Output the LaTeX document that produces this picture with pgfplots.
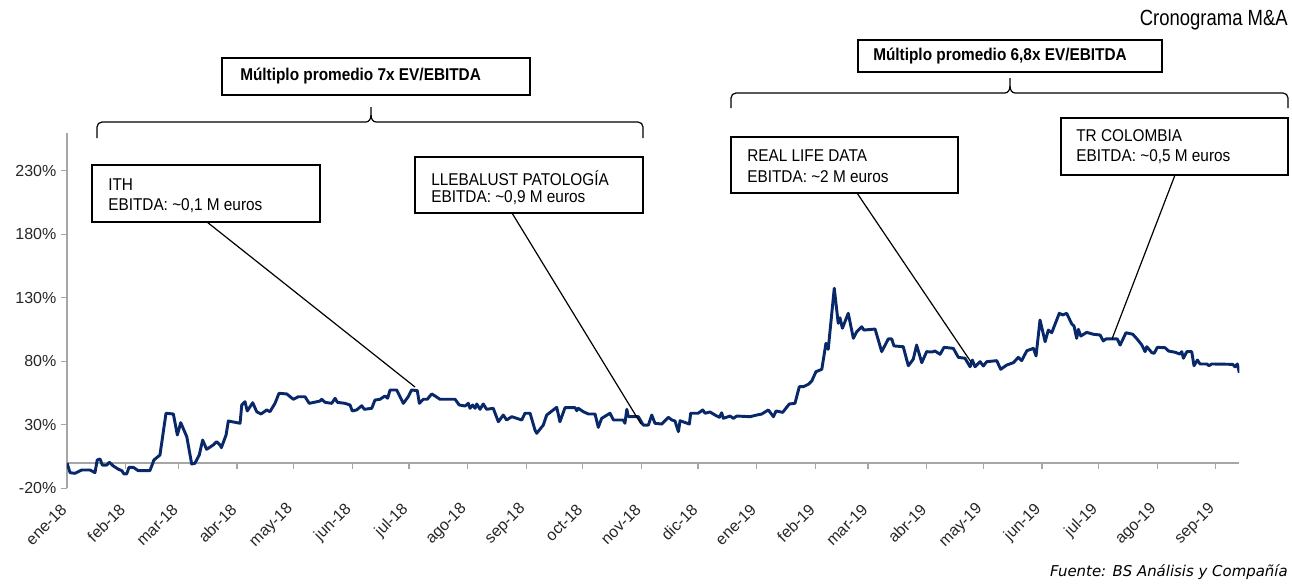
\documentclass[border=0pt]{standalone}
\usepackage{pgfplots}
\pgfplotsset{compat=1.18}
\usepackage{fontspec}
\setmainfont{Liberation Sans}
\newfontfamily\condfont[FakeStretch=0.9]{Liberation Sans}
\newfontfamily\titlefont[FakeStretch=0.84]{Liberation Sans}
\newfontfamily\fuentefont{DejaVu Sans}
\definecolor{navy}{RGB}{8,40,105}
\definecolor{axisgray}{RGB}{166,166,166}
\newcommand\tickfont{\fontsize{12}{14}\selectfont}
\newcommand\boxfont{\condfont\fontsize{12.8}{15}\selectfont}
\begin{document}
\begin{tikzpicture}
\begin{axis}[
  x=1.417pt, y=0.9525pt,
  xmin=0, xmax=620.5, ymin=-20, ymax=260,
  axis x line=middle, axis y line=left,
  axis line style={-, draw=axisgray, line width=0.9pt},
  hide obscured x ticks=false,
  xtick={0,31,59,90,120,151,181,212,243,273,304,334,365,396,424,455,485,516,546,577,608},
  xticklabels={ene-18,feb-18,mar-18,abr-18,may-18,jun-18,jul-18,ago-18,sep-18,oct-18,nov-18,dic-18,ene-19,feb-19,mar-19,abr-19,may-19,jun-19,jul-19,ago-19,sep-19},
  ytick={-20,30,80,130,180,230},
  yticklabels={-20\%,30\%,80\%,130\%,180\%,230\%},
  minor tick num=0,
  tick align=outside,
  major tick length=4.5pt,
  tick style={draw=axisgray, line width=0.9pt},
  xticklabel style={font=\tickfont, rotate=45, anchor=east, text=black!85},
  xticklabel shift=26pt,
  yticklabel style={font=\tickfont, text=black!85},
]
\addplot[navy, line width=2.2pt, line join=round] coordinates {
(0,0) (1.6,-7.7) (4.2,-8.2) (7.8,-5.6) (12.2,-5.6) (14.8,-7.7) (16.0,2.3) (17.5,3.1) (18.7,-1.7) (21.0,-1.7) (22.4,0.5) (24.5,-2.4) (27.2,-5.0) (29.0,-6.1) (30.2,-8.7) (31.6,-8.7) (32.8,-3.5) (35.1,-3.5) (37.7,-6.1) (43.9,-6.1) (46.0,2.3) (49.2,6.2) (52.4,39.1) (56.3,38.5) (58.4,22.0) (60.2,31.7) (63.4,20.6) (66.0,-0.9) (67.7,-0.3) (70.0,6.2) (71.8,18.0) (73.9,10.7) (77.4,14.1) (79.2,16.7) (81.0,14.1) (81.7,12.0) (84.2,22.0) (85.4,33.0) (91.6,31.2) (92.5,45.6) (94.2,48.2) (95.4,40.9) (98.3,47.4) (100.4,40.3) (102.7,38.5) (105.7,41.7) (107.4,40.3) (110.1,46.9) (112.2,54.8) (116.3,54.3) (119.8,50.1) (122.4,52.1) (126.0,52.1) (128.2,46.9) (133.9,48.7) (134.8,50.1) (136.6,47.7) (140.1,46.9) (141.9,50.9) (143.1,47.7) (147.1,46.9) (149.8,45.6) (151.0,40.9) (153.3,41.7) (156.0,45.0) (157.4,42.2) (161.3,43.0) (163.0,49.5) (165.7,50.1) (168.3,52.7) (169.7,50.9) (171.0,57.4) (174.5,57.4) (178.0,46.9) (180.6,52.1) (182.4,57.4) (185.4,56.9) (186.5,46.9) (188.6,50.1) (190.7,50.1) (193.0,54.3) (194.8,52.7) (197.4,50.1) (205.4,50.1) (207.6,45.6) (210.7,44.8) (212.4,46.9) (213.3,43.0) (214.7,45.6) (216.0,43.0) (216.9,46.4) (218.6,42.2) (220.3,46.4) (222.1,42.2) (225.6,43.0) (228.3,32.4) (230.9,37.7) (232.7,33.8) (235.4,36.4) (240.7,33.8) (242.4,39.1) (245.1,39.1) (247.7,25.9) (248.6,23.3) (252.1,29.8) (253.9,37.7) (259.2,43.8) (260.9,32.4) (263.6,43.5) (268.9,43.5) (269.8,41.1) (270.6,43.0) (273.3,40.3) (276.0,38.5) (279.5,38.5) (281.2,28.0) (283.0,35.1) (287.4,39.1) (289.2,33.8) (294.4,33.8) (295.3,31.2) (296.3,42.2) (297.1,36.4) (302.4,36.4) (305.0,29.8) (307.7,29.8) (309.5,37.7) (311.2,31.2) (314.8,30.6) (318.3,35.9) (320.1,33.8) (321.8,33.0) (323.6,24.6) (324.5,33.2) (329.4,30.6) (330.1,39.1) (334.1,39.1) (336.5,41.7) (337.7,39.1) (340.3,40.1) (343.0,37.7) (345.3,35.9) (346.5,39.5) (347.4,35.1) (350.9,36.9) (352.7,35.1) (354.5,36.9) (361.5,36.4) (365.1,37.7) (367.7,38.5) (371.2,41.7) (373.9,36.4) (375.3,40.9) (378.8,39.8) (382.3,46.4) (385.3,46.9) (387.6,60.0) (389.7,60.0) (392.4,61.9) (394.2,64.5) (396.4,71.8) (399.5,73.7) (401.7,94.2) (402.9,89.4) (406.1,137.5) (408.2,109.9) (409.1,114.3) (410.4,106.0) (413.5,117.8) (416.2,98.1) (418.0,103.3) (420.6,107.2) (421.8,104.6) (427.7,105.4) (429.4,96.8) (431.2,87.6) (434.7,97.6) (436.5,97.6) (437.7,92.1) (442.6,91.5) (445.3,76.5) (447.9,81.6) (449.7,92.8) (452.4,78.9) (455.0,87.6) (457.7,87.3) (459.4,88.1) (462.1,85.5) (464.2,91.0) (469.1,90.2) (471.8,83.1) (475.3,82.4) (478.0,75.7) (479.2,81.0) (480.6,75.7) (483.3,79.7) (485.0,76.3) (486.8,79.7) (492.1,80.5) (494.2,73.7) (497.4,77.1) (500.9,78.9) (503.5,83.1) (505.3,80.5) (508.0,88.3) (511.5,90.2) (512.9,84.2) (515.0,112.5) (517.7,95.4) (519.4,104.6) (521.2,102.5) (525.2,117.8) (527.0,116.5) (529.1,117.8) (531.8,109.4) (533.0,107.8) (534.4,98.1) (535.3,105.2) (536.6,99.9) (539.7,102.8) (543.2,101.3) (546.8,100.7) (548.5,96.0) (549.9,97.6) (555.9,97.6) (557.4,92.8) (560.5,102.5) (564.1,101.3) (566.5,97.3) (568.9,92.8) (570.6,87.6) (571.5,91.5) (574.2,86.8) (575.4,86.3) (577.1,91.0) (581.2,90.7) (583.0,88.1) (586.5,87.1) (589.1,85.7) (590.0,87.6) (590.9,82.4) (592.7,87.6) (595.3,87.6) (596.5,76.5) (598.3,81.0) (599.7,77.9) (603.3,77.9) (604.4,76.5) (605.9,77.9) (617.0,77.6) (618.2,75.7) (619.4,77.9) (620.5,71.0)
};
\end{axis}
% annotations in reference pixel coordinates
\begin{scope}[x=0.75pt,y=-0.75pt,shift={(-67,-488.3)}]
\path (0,0) rectangle (1292,583);
% title
\node[anchor=east, font=\titlefont\fontsize{16.5}{19}\selectfont, inner sep=0pt] at (1288,20) {Cronograma M\&A};
% top boxes
\draw[line width=1.1pt] (222,58) rectangle (530,95);
\node[anchor=west, font=\boxfont\bfseries, inner sep=0pt] at (240,76.5) {Múltiplo promedio 7x EV/EBITDA};
\draw[line width=1.1pt] (858,40) rectangle (1162,72);
\node[anchor=west, font=\boxfont\bfseries, inner sep=0pt] at (873,56) {Múltiplo promedio 6,8x EV/EBITDA};
% braces
\draw[line width=0.9pt] (97,138) -- (97,127) to[out=90,in=180] (102,122) -- (366,122) to[out=0,in=270] (371,115) -- (371,107);
\draw[line width=0.9pt] (371,115) to[out=270,in=180] (376,122) -- (638,122) to[out=0,in=90] (643,127) -- (643,138);
\draw[line width=0.9pt] (731,108) -- (731,98) to[out=90,in=180] (736,93) -- (1005,93) to[out=0,in=270] (1010,86) -- (1010,78);
\draw[line width=0.9pt] (1010,86) to[out=270,in=180] (1015,93) -- (1283,93) to[out=0,in=90] (1288,98) -- (1288,108);
% deal boxes
\draw[line width=1.1pt] (92,165) rectangle (320,222);
\node[anchor=west, font=\boxfont, inner sep=0pt] at (108,185) {ITH};
\node[anchor=west, font=\boxfont, inner sep=0pt] at (108,206) {EBITDA: \textasciitilde0,1 M euros};
\draw[line width=1.1pt] (415,157) rectangle (643,213);
\node[anchor=west, font=\boxfont, inner sep=0pt] at (431,178) {LLEBALUST PATOLOGÍA};
\node[anchor=west, font=\boxfont, inner sep=0pt] at (431,198) {EBITDA: \textasciitilde0,9 M euros};
\draw[line width=1.1pt] (731,137) rectangle (958,193);
\node[anchor=west, font=\boxfont, inner sep=0pt] at (747,156) {REAL LIFE DATA};
\node[anchor=west, font=\boxfont, inner sep=0pt] at (747,177) {EBITDA: \textasciitilde2 M euros};
\draw[line width=1.1pt] (1061,118) rectangle (1288,175);
\node[anchor=west, font=\boxfont, inner sep=0pt] at (1076,136) {TR COLOMBIA};
\node[anchor=west, font=\boxfont, inner sep=0pt] at (1076,157) {EBITDA: \textasciitilde0,5 M euros};
% leader lines
\draw[line width=0.9pt] (207,222) -- (415,387);
\draw[line width=0.9pt] (512,213) -- (641,424);
\draw[line width=0.9pt] (857,193) -- (971,362);
\draw[line width=0.9pt] (1175,175) -- (1112,339);
% source
\node[anchor=east, font=\fuentefont\itshape\fontsize{11.2}{13}\selectfont, inner sep=0pt] at (1288,572) {Fuente: BS Análisis y Compañía};
\end{scope}
\end{tikzpicture}
\end{document}
